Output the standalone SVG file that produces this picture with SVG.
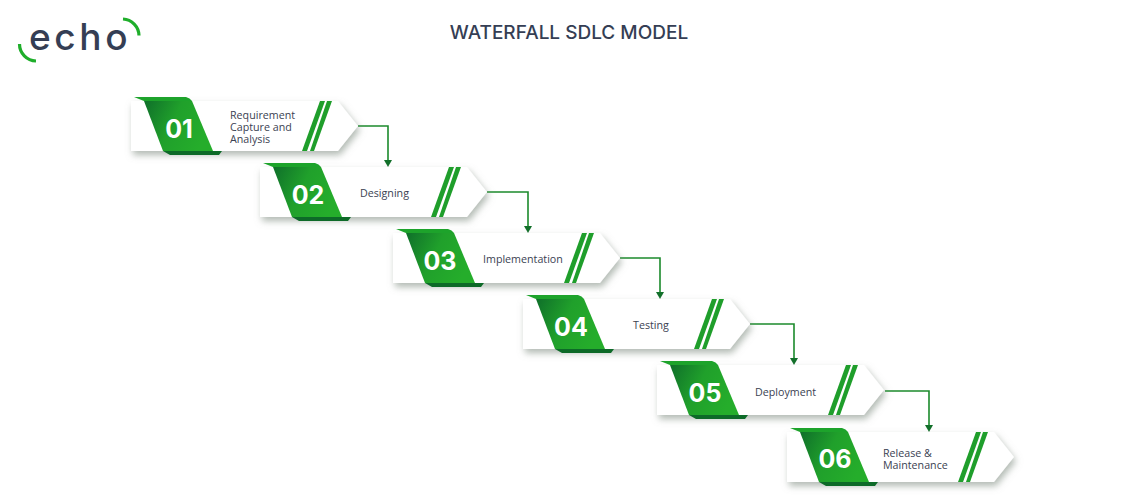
<svg xmlns="http://www.w3.org/2000/svg" width="1140" height="500" viewBox="0 0 1140 500">
<style>
.lb{font-family:"Open Sans","Liberation Sans",sans-serif;font-size:10.7px;fill:#3b4252}
.nm{font-family:"Inter","Liberation Sans",sans-serif;font-size:25px;font-weight:700;fill:#fff;text-anchor:middle}
.cn{fill:none;stroke:#1c8a2c;stroke-width:1.6}
.ar{fill:#12702a}
.st{fill:#1f9e2b}
</style>
<defs>
<linearGradient id="g" x1="0" y1="0" x2="1" y2="0.35">
<stop offset="0" stop-color="#0f6f2a"/><stop offset="0.5" stop-color="#20a02b"/><stop offset="1" stop-color="#25ad2b"/>
</linearGradient>
<filter id="s" x="-10%" y="-20%" width="125%" height="150%">
<feDropShadow dx="2" dy="4" stdDeviation="3.5" flood-color="#7f8c80" flood-opacity="0.6"/>
</filter>
<g id="card">
<path d="M0 4H207L227 29L207 54H0Z" fill="#fff" filter="url(#s)"/>
<path d="M3 0H55Q59 1 61 4H13Z" fill="#1da32b"/>
<path d="M32 54H91L88 58H39Z" fill="#0d6a28"/>
<path d="M13 4H61L82 54H32Z" fill="url(#g)"/>
<path class="st" d="M189 4H194L176 54H171Z"/>
<path class="st" d="M196 4H201L183 54H179Z"/>
</g>
</defs>
<g id="logo">
<text x="29" y="50" font-family="Inter,'Liberation Sans',sans-serif" font-size="37" font-weight="500" letter-spacing="3.6" fill="#353e54">echo</text>
<path d="M19.500 44A17 17 0 0 0 36 61" fill="none" stroke="#1fae2b" stroke-width="3.200"/>
<path d="M123 19A17 17 0 0 1 139 35.500" fill="none" stroke="#1fae2b" stroke-width="3.200"/>
</g>
<text id="title" x="569" y="39" text-anchor="middle" font-family="Inter,'Liberation Sans',sans-serif" font-size="19" font-weight="500" fill="#353e54">WATERFALL SDLC MODEL</text>
<g id="connectors">
<path class="cn" d="M358 126H388V162"/><path class="ar" d="M384 160H392L388 167Z"/>
<path class="cn" d="M487 192H528V228"/><path class="ar" d="M524 226H532L528 233Z"/>
<path class="cn" d="M620 258H660V294"/><path class="ar" d="M656 292H664L660 299Z"/>
<path class="cn" d="M750 324H794V360"/><path class="ar" d="M790 358H798L794 365Z"/>
<path class="cn" d="M885 391H929V426"/><path class="ar" d="M925 425H933L929 432Z"/>
</g>
<g id="node1"><use href="#card" x="131" y="97"/><text class="nm" x="179" y="138">01</text><text class="lb" x="230" y="119">Requirement</text><text class="lb" x="230" y="131">Capture and</text><text class="lb" x="230" y="143">Analysis</text></g>
<g id="node2"><use href="#card" x="260" y="163"/><text class="nm" x="308" y="204">02</text><text class="lb" x="360" y="197">Designing</text></g>
<g id="node3"><use href="#card" x="393" y="229"/><text class="nm" x="440" y="270">03</text><text class="lb" x="483" y="263">Implementation</text></g>
<g id="node4"><use href="#card" x="523" y="295"/><text class="nm" x="571" y="336">04</text><text class="lb" x="633" y="329">Testing</text></g>
<g id="node5"><use href="#card" x="657" y="361"/><text class="nm" x="705" y="402">05</text><text class="lb" x="755" y="396">Deployment</text></g>
<g id="node6"><use href="#card" x="787" y="428"/><text class="nm" x="835" y="468">06</text><text class="lb" x="883" y="457">Release &amp;</text><text class="lb" x="883" y="469">Maintenance</text></g>
</svg>
